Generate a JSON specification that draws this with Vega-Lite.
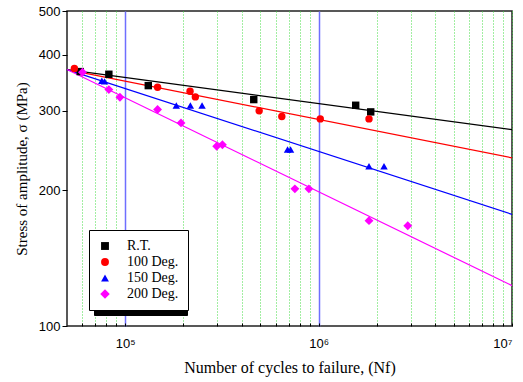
{
  "$schema": "https://vega.github.io/schema/vega-lite/v6.json",
  "autosize": "none",
  "width": 445,
  "height": 315,
  "padding": {"left": 67, "top": 11, "right": 11, "bottom": 56},
  "background": "white",
  "config": {
    "view": {"stroke": "#222222", "strokeWidth": 1.5},
    "axis": {"domain": false, "labelFont": "Liberation Sans", "labelFontSize": 13, "labelColor": "black", "titleFont": "Liberation Serif", "titleFontSize": 15, "titleFontWeight": "normal", "titleColor": "black", "tickColor": "black"},
    "legend": {"orient": "none", "legendX": 22, "legendY": 219, "padding": 9, "strokeColor": "black", "fillColor": "white", "symbolSize": 62, "labelFont": "Liberation Serif", "labelFontSize": 14, "labelOffset": 15, "rowPadding": 2, "symbolOpacity": 1, "labelColor": "black", "labelLimit": 200, "symbolStrokeWidth": 0}
  },
  "datasets": {
    "fits": [
      {"fit": "R.T.", "N": 50000, "s": 370.7},
      {"fit": "R.T.", "N": 10000000, "s": 272.8},
      {"fit": "100 Deg.", "N": 50000, "s": 370.7},
      {"fit": "100 Deg.", "N": 10000000, "s": 236.1},
      {"fit": "150 Deg.", "N": 50000, "s": 370.7},
      {"fit": "150 Deg.", "N": 10000000, "s": 176.9},
      {"fit": "200 Deg.", "N": 50000, "s": 370.7},
      {"fit": "200 Deg.", "N": 10000000, "s": 122.9}
    ],
    "pts": [
      {"series": "R.T.", "N": 58500, "s": 366.9},
      {"series": "R.T.", "N": 82300, "s": 361.9},
      {"series": "R.T.", "N": 131600, "s": 341.5},
      {"series": "R.T.", "N": 462000, "s": 318.0},
      {"series": "R.T.", "N": 1555000, "s": 308.9},
      {"series": "R.T.", "N": 1860000, "s": 298.6},
      {"series": "100 Deg.", "N": 54600, "s": 372.7},
      {"series": "100 Deg.", "N": 147000, "s": 338.6},
      {"series": "100 Deg.", "N": 216400, "s": 331.7},
      {"series": "100 Deg.", "N": 230500, "s": 322.4},
      {"series": "100 Deg.", "N": 492800, "s": 300.2},
      {"series": "100 Deg.", "N": 645300, "s": 291.6},
      {"series": "100 Deg.", "N": 1020000, "s": 288.1},
      {"series": "100 Deg.", "N": 1822000, "s": 288.1},
      {"series": "150 Deg.", "N": 75700, "s": 350.2},
      {"series": "150 Deg.", "N": 78200, "s": 349.0},
      {"series": "150 Deg.", "N": 183700, "s": 308.4},
      {"series": "150 Deg.", "N": 217200, "s": 308.4},
      {"series": "150 Deg.", "N": 249700, "s": 308.4},
      {"series": "150 Deg.", "N": 690900, "s": 246.4},
      {"series": "150 Deg.", "N": 715900, "s": 246.4},
      {"series": "150 Deg.", "N": 1822000, "s": 226.1},
      {"series": "150 Deg.", "N": 2179000, "s": 226.1},
      {"series": "200 Deg.", "N": 60100, "s": 365.6},
      {"series": "200 Deg.", "N": 82300, "s": 334.6},
      {"series": "200 Deg.", "N": 93900, "s": 321.8},
      {"series": "200 Deg.", "N": 147000, "s": 302.2},
      {"series": "200 Deg.", "N": 194300, "s": 282.3},
      {"series": "200 Deg.", "N": 297200, "s": 250.6},
      {"series": "200 Deg.", "N": 318100, "s": 252.4},
      {"series": "200 Deg.", "N": 753900, "s": 201.5},
      {"series": "200 Deg.", "N": 890600, "s": 201.5},
      {"series": "200 Deg.", "N": 1822000, "s": 171.3},
      {"series": "200 Deg.", "N": 2891000, "s": 166.9}
    ]
  },
  "encoding": {
    "x": {
      "field": "N", "type": "quantitative",
      "scale": {"type": "log", "domain": [50000, 10000000], "nice": false},
      "axis": {
        "title": "Number of cycles to failure, (Nf)",
        "titleFontSize": 16,
        "titlePadding": 9,
        "values": [60000, 70000, 80000, 90000, 100000, 200000, 300000, 400000, 500000, 600000, 700000, 800000, 900000, 1000000, 2000000, 3000000, 4000000, 5000000, 6000000, 7000000, 8000000, 9000000, 10000000],
        "labelExpr": "datum.value == 100000 ? '10⁵' : datum.value == 1000000 ? '10⁶' : datum.value == 10000000 ? '10⁷' : ''",
        "labelPadding": 14,
        "tickSize": -3,
        "grid": true,
        "gridColor": {"condition": {"test": "datum.value == 100000 || datum.value == 1000000", "value": "#6f6fff"}, "value": "#44dd44"},
        "gridDash": {"condition": {"test": "datum.value == 100000 || datum.value == 1000000", "value": []}, "value": [1, 2]},
        "gridWidth": {"condition": {"test": "datum.value == 100000 || datum.value == 1000000", "value": 1.5}, "value": 1},
        "gridOpacity": 1
      }
    },
    "y": {
      "field": "s", "type": "quantitative",
      "scale": {"type": "log", "domain": [100, 500], "nice": false},
      "axis": {
        "title": "Stress of amplitude, σ (MPa)",
        "titlePadding": 9,
        "values": [100, 200, 300, 400, 500],
        "tickSize": 5,
        "grid": false
      }
    }
  },
  "layer": [
    {
      "data": {"name": "fits"},
      "mark": {"type": "line", "strokeWidth": 1.2},
      "encoding": {
        "stroke": {"field": "fit", "type": "nominal", "title": null,
          "scale": {"range": ["#ff0000", "#0000ff", "#ff00ff", "#000000"]},
          "legend": {"legendX": 27, "legendY": 224, "fillColor": "black", "strokeColor": "black", "symbolOpacity": 0, "labelExpr": "' '", "labelOffset": 61, "zindex": 0, "symbolType": "square"}},
        "detail": {"field": "fit"}
      }
    },
    {
      "data": {"name": "pts"},
      "mark": {"type": "point", "filled": true, "opacity": 1, "size": 55},
      "encoding": {
        "color": {"field": "series", "type": "nominal", "title": null,
          "scale": {"domain": ["R.T.", "100 Deg.", "150 Deg.", "200 Deg."], "range": ["#000000", "#ff0000", "#0000ff", "#ff00ff"]},
          "legend": {"zindex": 1}},
        "shape": {"field": "series", "type": "nominal", "title": null,
          "scale": {"domain": ["R.T.", "100 Deg.", "150 Deg.", "200 Deg."], "range": ["square", "circle", "triangle-up", "M-1.2,0L0,-1.2L1.2,0L0,1.2Z"]},
          "legend": {"zindex": 1}}
      }
    }
  ]
}
